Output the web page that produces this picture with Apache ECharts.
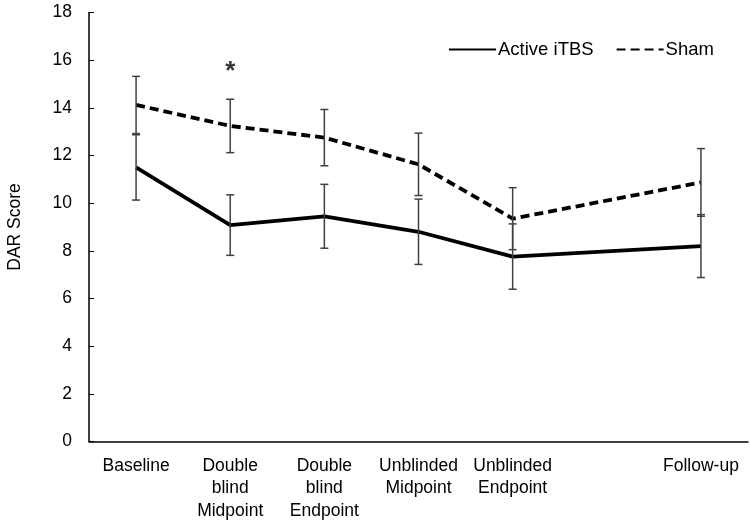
<!DOCTYPE html>
<html>
<head>
<meta charset="utf-8">
<script src="https://cdn.jsdelivr.net/npm/echarts@6/dist/echarts.min.js"></script>
<style>html,body{margin:0;padding:0;background:#fff}#c{width:750px;height:521px}</style>
</head>
<body>
<div id="c"></div>
<script>
var categories = ['Baseline', 'Double\nblind\nMidpoint', 'Double\nblind\nEndpoint', 'Unblinded\nMidpoint', 'Unblinded\nEndpoint', '', 'Follow-up'];
var activeMean = [11.5, 9.08, 9.45, 8.8, 7.76, null, 8.2];
var activeErr  = [1.37, 1.27, 1.34, 1.37, 1.37, null, 1.32];
var shamMean   = [14.12, 13.24, 12.75, 11.63, 9.35, null, 10.87];
var shamErr    = [1.2, 1.12, 1.18, 1.31, 1.3, null, 1.42];
var yTicks = [0, 2, 4, 6, 8, 10, 12, 14, 16, 18];
var starPoint = [1, 15.7];

var FONT = 'Liberation Sans, Arial, sans-serif';
var FS = 17.5;

function errData(mean, err) {
  var out = [];
  for (var i = 0; i < mean.length; i++) {
    if (mean[i] != null) out.push([i, mean[i] - err[i], mean[i] + err[i]]);
  }
  return out;
}
function errRender(params, api) {
  var x = api.value(0);
  var lo = api.coord([x, api.value(1)]);
  var hi = api.coord([x, api.value(2)]);
  var w = 4;
  var st = { stroke: '#404040', lineWidth: 1.5 };
  return {
    type: 'group',
    children: [
      { type: 'line', shape: { x1: lo[0], y1: lo[1], x2: hi[0], y2: hi[1] }, style: st },
      { type: 'line', shape: { x1: lo[0] - w, y1: lo[1], x2: lo[0] + w, y2: lo[1] }, style: st },
      { type: 'line', shape: { x1: hi[0] - w, y1: hi[1], x2: hi[0] + w, y2: hi[1] }, style: st }
    ]
  };
}

var chart = echarts.init(document.getElementById('c'), null, { renderer: 'canvas' });
chart.setOption({
  animation: false,
  textStyle: { fontFamily: FONT },
  grid: { left: 89, right: 2, top: 12.5, bottom: 79.5, containLabel: false, outerBoundsMode: 'none' },
  legend: {
    left: 443, top: 35,
    itemWidth: 47, itemHeight: 14, itemGap: 22,
    itemStyle: { opacity: 0 },
    textStyle: { fontFamily: FONT, fontSize: 18.5, color: '#000', padding: [0, 0, 0, -3] },
    data: [{ name: 'Active iTBS' }, { name: 'Sham' }]
  },
  xAxis: {
    type: 'category',
    data: categories,
    boundaryGap: true,
    axisLine: { lineStyle: { color: '#000', width: 1.5 } },
    axisTick: {
      inside: true, length: 5,
      lineStyle: { color: '#000', width: 1 },
      interval: function (idx) { return idx !== 6; }
    },
    axisLabel: {
      interval: 0, color: '#000', fontSize: FS, fontFamily: FONT,
      lineHeight: 22.5, margin: 13
    }
  },
  yAxis: {
    type: 'value',
    min: yTicks[0], max: yTicks[yTicks.length - 1], interval: 2,
    name: 'DAR Score',
    nameLocation: 'middle',
    nameGap: 65,
    nameTextStyle: { fontSize: FS, color: '#000', fontFamily: FONT },
    splitLine: { show: false },
    axisLine: { show: true, lineStyle: { color: '#000', width: 1.5 } },
    axisTick: { show: true, inside: true, length: 5, lineStyle: { color: '#000', width: 1 } },
    axisLabel: { color: '#000', fontSize: FS, fontFamily: FONT, margin: 17 }
  },
  series: [
    {
      name: 'Active iTBS', type: 'line', data: activeMean, connectNulls: true,
      symbol: 'none', z: 3,
      lineStyle: { color: '#000', width: 3.8, type: 'solid' },
      itemStyle: { color: '#000' }
    },
    {
      name: 'Sham', type: 'line', data: shamMean, connectNulls: true,
      symbol: 'none', z: 3,
      lineStyle: { color: '#000', width: 3.8, type: [9, 5] },
      itemStyle: { color: '#000' }
    },
    {
      type: 'custom', renderItem: errRender, data: errData(activeMean, activeErr),
      encode: { x: 0, y: [1, 2] }, z: 4, silent: true
    },
    {
      type: 'custom', renderItem: errRender, data: errData(shamMean, shamErr),
      encode: { x: 0, y: [1, 2] }, z: 4, silent: true
    },
    {
      type: 'scatter', data: [starPoint], symbolSize: 1, itemStyle: { color: 'rgba(0,0,0,0)' },
      silent: true,
      label: {
        show: true, position: 'inside', formatter: '*',
        fontSize: 26, fontWeight: 'bold', color: '#000', fontFamily: FONT, offset: [0, 5]
      }
    }
  ]
});
</script>
</body>
</html>
